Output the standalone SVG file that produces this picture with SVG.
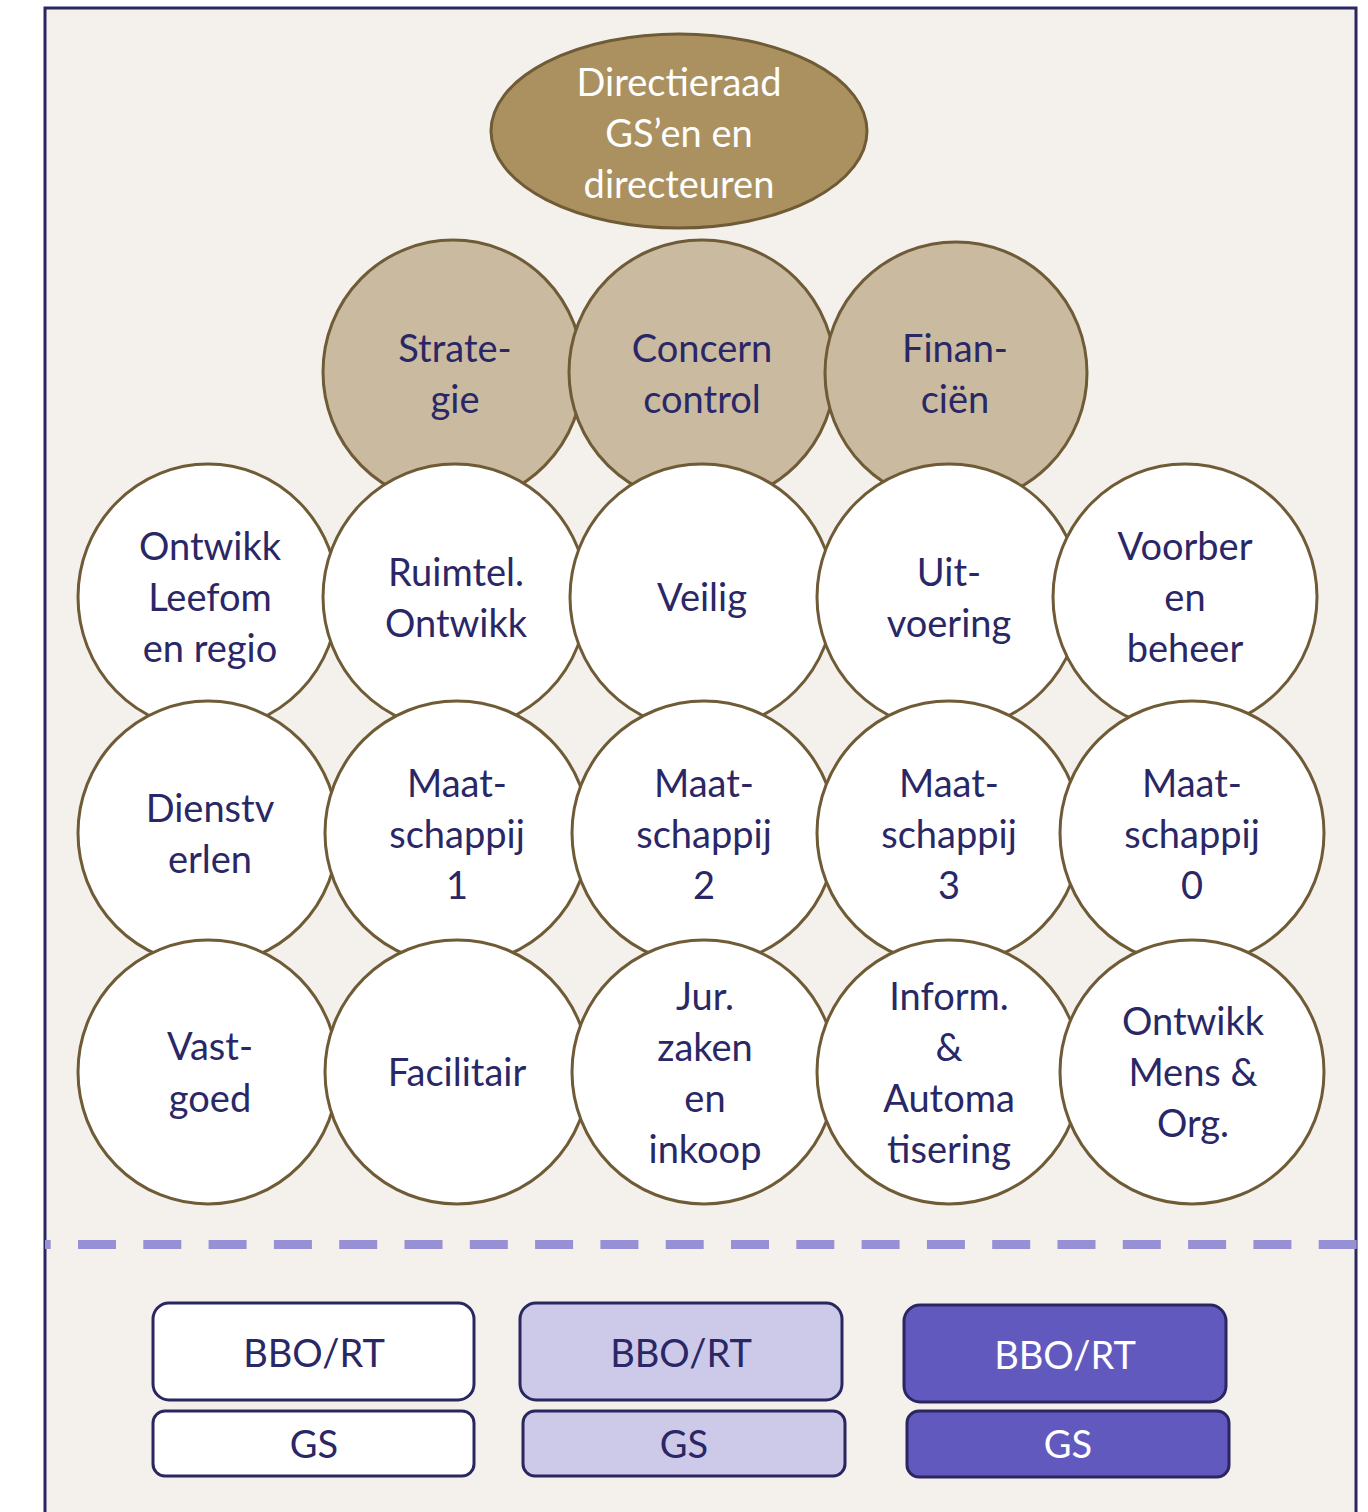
<svg xmlns="http://www.w3.org/2000/svg" width="1368" height="1512" viewBox="0 0 1368 1512">
<style>
text{font-family:Lato,"Open Sans","Liberation Sans",sans-serif;font-size:38px;text-anchor:middle;fill:#2a2766}
.w{fill:#fff}
.top{fill:#ab9160;stroke:#6f5b36;stroke-width:3}
.tan{fill:#c9baa0;stroke:#6f5b36;stroke-width:3}
.c{fill:#fff;stroke:#6f5b36;stroke-width:3}
.b1{fill:#fff;stroke:#2a2660;stroke-width:3}
.b2{fill:#cdc9e8;stroke:#2a2660;stroke-width:3}
.b3{fill:#6259be;stroke:#2a2660;stroke-width:3}
</style>
<rect x="0" y="0" width="1368" height="1512" fill="#fff"/>
<rect x="45" y="8" width="1311" height="1530" fill="#f4f1ec" stroke="#2a2660" stroke-width="3"/>
<g id="connectors">
<line x1="45" y1="1244.5" x2="1357" y2="1244.5" stroke="#9890d4" stroke-width="9" stroke-dasharray="38 27.3" stroke-dashoffset="32.3"/>
</g>
<g id="directieraad"><ellipse class="top" cx="679" cy="131" rx="188" ry="97"/>
<text class="w" x="679" y="96">Directieraad</text><text class="w" x="679" y="147">GS’en en</text><text class="w" x="679" y="198">directeuren</text></g>
<g id="strategie"><ellipse class="tan" cx="453" cy="372" rx="130" ry="132"/><text x="455" y="362">Strate-</text><text x="455" y="413">gie</text></g>
<g id="concern"><ellipse class="tan" cx="702" cy="372" rx="133" ry="132"/><text x="702" y="362">Concern</text><text x="702" y="413">control</text></g>
<g id="financien"><ellipse class="tan" cx="956" cy="373" rx="131" ry="131"/><text x="955" y="362">Finan-</text><text x="955" y="413">ciën</text></g>
<g id="ontwikk-leefom"><ellipse class="c" cx="208" cy="597" rx="130" ry="133"/><text x="210" y="560">Ontwikk</text><text x="210" y="611">Leefom</text><text x="210" y="662">en regio</text></g>
<g id="ruimtel"><ellipse class="c" cx="455" cy="597" rx="132" ry="133"/><text x="456" y="586">Ruimtel.</text><text x="456" y="637">Ontwikk</text></g>
<g id="veilig"><ellipse class="c" cx="702" cy="597" rx="132" ry="133"/><text x="702" y="611">Veilig</text></g>
<g id="uitvoering"><ellipse class="c" cx="949" cy="597" rx="132" ry="133"/><text x="949" y="586">Uit-</text><text x="949" y="637">voering</text></g>
<g id="voorber"><ellipse class="c" cx="1185" cy="597" rx="132" ry="133"/><text x="1185" y="560">Voorber</text><text x="1185" y="611">en</text><text x="1185" y="662">beheer</text></g>
<g id="dienstverlen"><ellipse class="c" cx="208" cy="833" rx="130" ry="132"/><text x="210" y="822">Dienstv</text><text x="210" y="873">erlen</text></g>
<g id="maat1"><ellipse class="c" cx="457" cy="833" rx="132" ry="132"/><text x="457" y="797">Maat-</text><text x="457" y="848">schappij</text><text x="457" y="899">1</text></g>
<g id="maat2"><ellipse class="c" cx="704" cy="833" rx="132" ry="132"/><text x="704" y="797">Maat-</text><text x="704" y="848">schappij</text><text x="704" y="899">2</text></g>
<g id="maat3"><ellipse class="c" cx="949" cy="833" rx="132" ry="132"/><text x="949" y="797">Maat-</text><text x="949" y="848">schappij</text><text x="949" y="899">3</text></g>
<g id="maat0"><ellipse class="c" cx="1192" cy="833" rx="132" ry="132"/><text x="1192" y="797">Maat-</text><text x="1192" y="848">schappij</text><text x="1192" y="899">0</text></g>
<g id="vastgoed"><ellipse class="c" cx="208" cy="1072" rx="130" ry="132"/><text x="210" y="1060">Vast-</text><text x="210" y="1112">goed</text></g>
<g id="facilitair"><ellipse class="c" cx="457" cy="1072" rx="132" ry="132"/><text x="457" y="1086">Facilitair</text></g>
<g id="jurzaken"><ellipse class="c" cx="704" cy="1072" rx="132" ry="132"/><text x="705" y="1010">Jur.</text><text x="705" y="1061">zaken</text><text x="705" y="1112">en</text><text x="705" y="1163">inkoop</text></g>
<g id="inform"><ellipse class="c" cx="949" cy="1072" rx="132" ry="132"/><text x="949" y="1010">Inform.</text><text x="949" y="1061">&amp;</text><text x="949" y="1112">Automa</text><text x="949" y="1163">tisering</text></g>
<g id="ontwikk-mens"><ellipse class="c" cx="1192" cy="1072" rx="132" ry="132"/><text x="1193" y="1035">Ontwikk</text><text x="1193" y="1086">Mens &amp;</text><text x="1193" y="1137">Org.</text></g>
<g id="legend1"><rect class="b1" x="153" y="1303" width="321" height="97" rx="16"/><text x="314" y="1367">BBO/RT</text>
<rect class="b1" x="153" y="1411" width="321" height="65" rx="12"/><text x="314" y="1458">GS</text></g>
<g id="legend2"><rect class="b2" x="520" y="1303" width="322" height="97" rx="16"/><text x="681" y="1367">BBO/RT</text>
<rect class="b2" x="523" y="1411" width="322" height="65" rx="12"/><text x="684" y="1458">GS</text></g>
<g id="legend3"><rect class="b3" x="904" y="1305" width="322" height="97" rx="16"/><text class="w" x="1065" y="1369">BBO/RT</text>
<rect class="b3" x="907" y="1411" width="322" height="66" rx="12"/><text class="w" x="1068" y="1458">GS</text></g>
</svg>
